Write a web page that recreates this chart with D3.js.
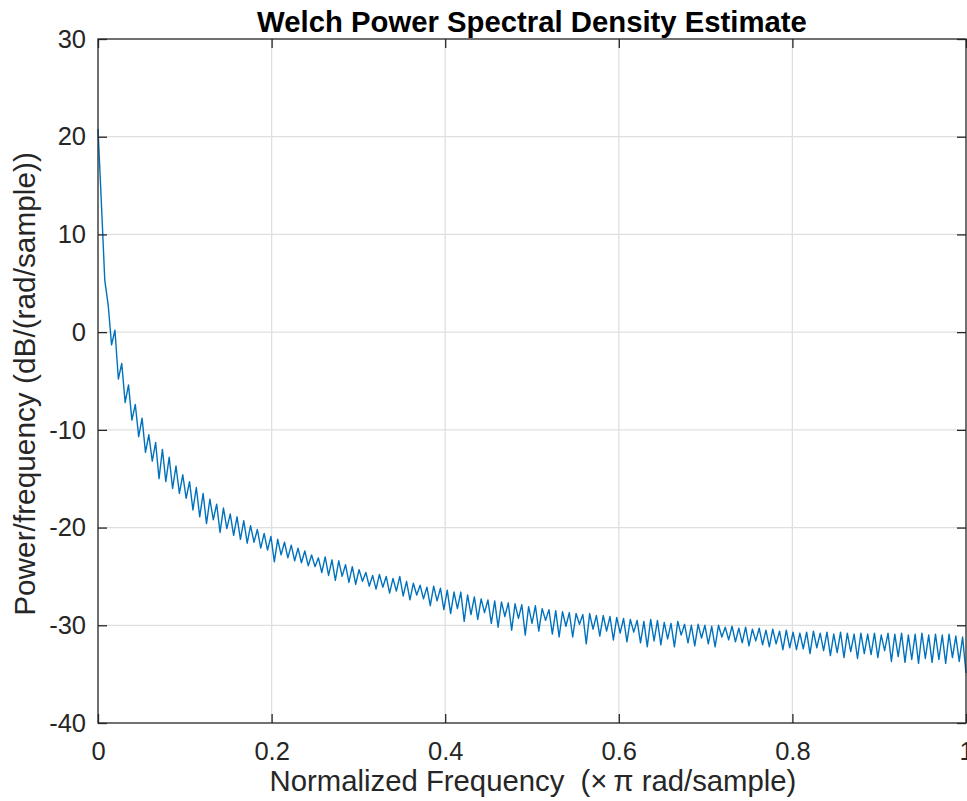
<!DOCTYPE html>
<html>
<head>
<meta charset="utf-8">
<script src="https://cdn.jsdelivr.net/npm/d3@7"></script>
<style>
  body { margin: 0; background: #fff; }
  svg { display: block; font-family: "Liberation Sans", Arial, Helvetica, sans-serif; }
</style>
</head>
<body>
<svg id="chart" width="967" height="801"></svg>
<script>
// DATA
const title = "Welch Power Spectral Density Estimate";
const xLabel = "Normalized Frequency  (\u00d7\u2009\u03c0 rad/sample)";
const yLabel = "Power/frequency (dB/(rad/sample))";
const xTicks = [0, 0.2, 0.4, 0.6, 0.8, 1];
const yTicks = [-40, -30, -20, -10, 0, 10, 20, 30];

// psd in dB, one value per frequency bin (0 .. 1 x pi rad/sample)
const psdDb = [
  20.8, 13.2, 5.3, 2.8, -1.3, 0.2, -4.8, -3.2, -7.2, -5.4, -9.0, -7.4, -10.7, -8.8, -12.3, -10.5,
  -13.2, -11.3, -15.0, -12.0, -15.3, -12.8, -16.0, -13.7, -16.5, -14.6, -17.0, -15.3, -18.2, -15.9, -18.9, -16.5,
  -19.6, -17.1, -19.2, -17.6, -20.5, -18.0, -20.1, -18.6, -20.8, -18.9, -21.2, -19.3, -21.6, -19.8, -21.5, -20.2,
  -22.1, -20.6, -22.3, -20.9, -23.5, -21.2, -22.8, -21.5, -23.1, -21.8, -23.4, -22.1, -23.6, -22.4, -23.9, -22.8,
  -24.0, -23.1, -24.6, -23.0, -24.9, -23.3, -25.4, -23.4, -25.0, -23.8, -25.6, -24.0, -25.8, -24.3, -25.5, -24.6,
  -26.0, -24.9, -26.3, -24.8, -26.1, -25.0, -26.7, -25.2, -26.5, -25.0, -27.0, -25.5, -27.4, -25.7, -26.9, -25.9,
  -27.3, -26.1, -28.0, -26.0, -27.5, -26.2, -28.4, -26.4, -28.8, -26.6, -28.3, -26.6, -29.6, -26.9, -28.9, -27.1,
  -29.4, -27.3, -28.7, -27.4, -29.8, -27.5, -30.2, -27.6, -29.1, -27.7, -30.5, -27.8, -29.3, -27.9, -31.0, -28.1,
  -29.8, -28.0, -30.6, -28.3, -29.5, -28.4, -30.9, -28.5, -31.2, -28.6, -30.1, -28.7, -31.2, -28.8, -29.9, -28.9,
  -31.9, -28.8, -30.4, -29.0, -31.1, -29.0, -30.6, -29.1, -31.5, -29.2, -30.8, -29.3, -31.7, -29.4, -30.7, -29.5,
  -31.8, -29.6, -32.2, -29.4, -31.6, -29.5, -32.0, -29.7, -31.4, -29.8, -32.2, -29.6, -31.0, -29.9, -31.8, -30.0,
  -32.1, -29.9, -31.3, -30.0, -31.9, -30.1, -32.2, -30.0, -31.2, -30.2, -31.5, -30.1, -31.7, -30.3, -31.8, -30.2,
  -32.1, -30.4, -31.6, -30.3, -32.0, -30.5, -32.2, -30.4, -31.9, -30.6, -32.5, -30.5, -32.3, -30.7, -32.5, -30.8,
  -32.4, -30.7, -32.9, -30.6, -32.3, -30.8, -32.6, -30.7, -33.1, -30.9, -32.8, -30.7, -33.3, -30.8, -32.7, -30.9,
  -33.4, -30.8, -32.9, -30.9, -33.0, -30.8, -33.3, -31.0, -32.6, -30.8, -33.7, -30.9, -33.2, -30.8, -33.8, -31.0,
  -33.5, -30.9, -33.9, -30.8, -33.4, -31.0, -33.8, -30.9, -33.5, -31.0, -33.9, -30.9, -33.3, -31.1, -33.7, -31.2,
  -34.9
];
// frequency grid of the bins (onesided, 0 .. 1)
const freq = psdDb.map((d, i) => i / (psdDb.length - 1));

// CANVAS SETUP
const canvas = d3.select("#chart");
const margin = { top: 39, right: 1, bottom: 78, left: 98 },
  width = +canvas.attr("width") - margin.left - margin.right,
  height = +canvas.attr("height") - margin.top - margin.bottom;

const axisColor = "#262626",
  gridColor = "#dfdfdf",
  lineColor = "#0072bd",
  tickLen = 9;

const xScale = d3.scaleLinear().domain([0, 1]).range([0, width]);
const yScale = d3.scaleLinear().domain([-40, 30]).range([height, 0]);

const g = canvas.append("g").attr("transform", `translate(${margin.left},${margin.top})`);

// GRID
g.append("g")
  .selectAll("line")
  .data(xTicks.slice(1, -1))
  .join("line")
  .attr("x1", (d) => xScale(d))
  .attr("x2", (d) => xScale(d))
  .attr("y1", 0)
  .attr("y2", height)
  .attr("stroke", gridColor)
  .attr("stroke-width", 1.3);

g.append("g")
  .selectAll("line")
  .data(yTicks.slice(1, -1))
  .join("line")
  .attr("x1", 0)
  .attr("x2", width)
  .attr("y1", (d) => yScale(d))
  .attr("y2", (d) => yScale(d))
  .attr("stroke", gridColor)
  .attr("stroke-width", 1.3);

// LINE
const line = d3
  .line()
  .x((d, i) => xScale(freq[i]))
  .y((d) => yScale(d));

g.append("path")
  .datum(psdDb)
  .attr("fill", "none")
  .attr("stroke", lineColor)
  .attr("stroke-width", 1.4)
  .attr("stroke-linejoin", "round")
  .attr("d", line);

// AXES (box on, ticks inside)
const styleAxis = function (sel) {
  sel.select(".domain").remove();
  sel.selectAll(".tick line").attr("stroke", axisColor).attr("stroke-width", 1.3);
  sel.selectAll(".tick text")
    .attr("fill", axisColor)
    .style("font-size", "25.5px");
  return sel;
};

const fmt = (d) => String(d);

g.append("g")
  .attr("transform", `translate(0,${height})`)
  .call(d3.axisBottom(xScale).tickValues(xTicks).tickFormat(fmt).tickSizeInner(-tickLen).tickSizeOuter(0).tickPadding(19))
  .call(styleAxis);

g.append("g")
  .call(d3.axisTop(xScale).tickValues(xTicks).tickFormat("").tickSizeInner(-tickLen).tickSizeOuter(0))
  .call(styleAxis);

g.append("g")
  .call(d3.axisLeft(yScale).tickValues(yTicks).tickFormat(fmt).tickSizeInner(-tickLen).tickSizeOuter(0).tickPadding(12))
  .call(styleAxis);

g.append("g")
  .attr("transform", `translate(${width},0)`)
  .call(d3.axisRight(yScale).tickValues(yTicks).tickFormat("").tickSizeInner(-tickLen).tickSizeOuter(0))
  .call(styleAxis);

g.append("rect")
  .attr("width", width)
  .attr("height", height)
  .attr("fill", "none")
  .attr("stroke", axisColor)
  .attr("stroke-width", 1.3);

// LABELS
canvas.append("text")
  .attr("x", margin.left + width / 2)
  .attr("y", 32)
  .attr("text-anchor", "middle")
  .attr("fill", "#000")
  .style("font-size", "29.3px")
  .style("font-weight", "bold")
  .text(title);

canvas.append("text")
  .attr("x", margin.left + width / 2 + 1)
  .attr("y", 791)
  .attr("text-anchor", "middle")
  .attr("fill", axisColor)
  .attr("xml:space", "preserve")
  .style("white-space", "pre")
  .style("font-size", "29.3px")
  .text(xLabel);

canvas.append("text")
  .attr("transform", `translate(35,${margin.top + height / 2 + 3}) rotate(-90)`)
  .attr("text-anchor", "middle")
  .attr("fill", axisColor)
  .style("font-size", "29.8px")
  .text(yLabel);
</script>
</body>
</html>
